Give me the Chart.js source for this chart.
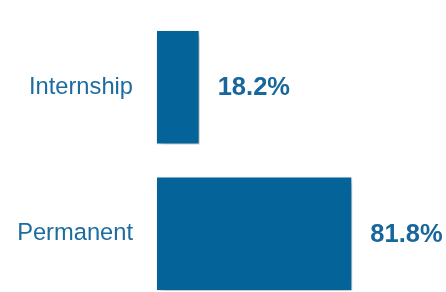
<!DOCTYPE html>
<html>
<head>
<meta charset="utf-8">
<script src="https://cdn.jsdelivr.net/npm/chart.js@4"></script>
<style>
	html, body { margin: 0; padding: 0; background: #fff; overflow: hidden; }
	#wrap { width: 446px; height: 292px; overflow: hidden; }
</style>
</head>
<body>
<div id="wrap"><canvas id="chart" width="446" height="308"></canvas></div>
<script>
const categories = ["Internship", "Permanent"];
const shares = [18.2, 81.8];
const valueLabels = ["18.2%", "81.8%"];

// soft drop shadow under the bars
const barShadow = {
	id: "barShadow",
	beforeDatasetDraw(chart) {
		const ctx = chart.ctx;
		ctx.save();
		ctx.shadowColor = "rgba(0,0,0,0.3)";
		ctx.shadowBlur = 7;
		ctx.shadowOffsetX = 3;
		ctx.shadowOffsetY = 3;
	},
	afterDatasetDraw(chart) {
		chart.ctx.restore();
	}
};

// percentage text at the end of each bar
const valueText = {
	id: "valueText",
	afterDatasetsDraw(chart) {
		const ctx = chart.ctx;
		const meta = chart.getDatasetMeta(0);
		ctx.save();
		ctx.font = "bold 25.5px 'Liberation Sans', Arial, sans-serif";
		ctx.fillStyle = "#18679B";
		ctx.textAlign = "left";
		ctx.textBaseline = "middle";
		meta.data.forEach((bar, i) => {
			ctx.fillText(valueLabels[i], bar.x + 18, bar.y + 1);
		});
		ctx.restore();
	}
};

new Chart(document.getElementById("chart"), {
	type: "bar",
	data: {
		labels: categories,
		datasets: [
			{
				data: shares,
				backgroundColor: "#04649A",
				borderColor: "#ffffff",
				borderWidth: 1,
				borderSkipped: false,
				barPercentage: 0.78,
				categoryPercentage: 1
			}
		]
	},
	options: {
		indexAxis: "y",
		responsive: false,
		animation: false,
		layout: { padding: { top: 14, bottom: 1, right: 50, left: 0 } },
		plugins: {
			legend: { display: false },
			tooltip: { enabled: false }
		},
		scales: {
			x: {
				display: false,
				min: 0,
				max: 100
			},
			y: {
				grid: { display: false, drawTicks: false },
				border: { display: false },
				afterFit(scale) {
					scale.width = 156;
					scale.paddingTop = 0;
					scale.paddingBottom = 0;
				},
				ticks: {
					padding: 23,
					color: "#1C6CA0",
					font: { family: "'Liberation Sans', Arial, sans-serif", size: 23.7 }
				}
			}
		}
	},
	plugins: [barShadow, valueText]
});
</script>
</body>
</html>
